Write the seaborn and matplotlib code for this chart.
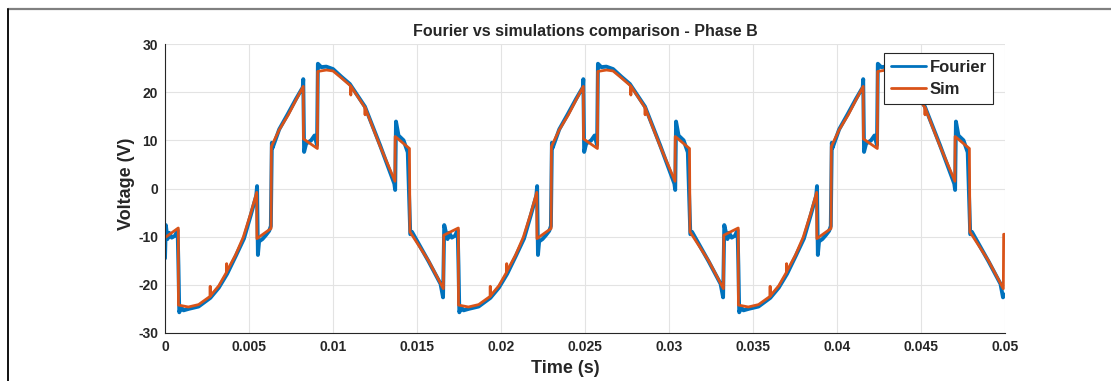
import pandas as pd
import matplotlib
matplotlib.use('Agg')
import matplotlib.pyplot as plt
from matplotlib.lines import Line2D
import seaborn as sns

# Values (time in s, voltage in V)
sim_t = [
    0.0, 0.00079, 0.0008, 0.00139, 0.0020, 0.00268, 0.00269, 0.0027, 0.0032, 0.00366,
    0.00367, 0.00368, 0.0042, 0.00466, 0.0051, 0.00546, 0.00547, 0.00631, 0.00633, 0.0068,
    0.00734, 0.0078, 0.00823, 0.00824, 0.00907, 0.00909, 0.00961, 0.0100, 0.01052, 0.01105,
    0.01106, 0.01107, 0.0119, 0.01191, 0.01192, 0.0128, 0.01369, 0.0137, 0.01455, 0.01458,
    0.01567, 0.01657,
    0.01659, 0.01746, 0.01747, 0.01806, 0.01867, 0.01935, 0.01936, 0.01937, 0.01987, 0.02033,
    0.02034, 0.02035, 0.02087, 0.02133, 0.02177, 0.02213, 0.02214, 0.02298, 0.02300, 0.02347,
    0.02401, 0.02447, 0.0249, 0.02491, 0.02574, 0.02576, 0.02628, 0.02667, 0.02719, 0.02772,
    0.02773, 0.02774, 0.02857, 0.02858, 0.02859, 0.02947, 0.03036, 0.03037, 0.03122, 0.03125,
    0.03234, 0.03324,
    0.03326, 0.03412, 0.03413, 0.03472, 0.03533, 0.03601, 0.03602, 0.03603, 0.03653, 0.03699,
    0.0370, 0.03701, 0.03753, 0.03799, 0.03843, 0.03879, 0.0388, 0.03964, 0.03966, 0.04013,
    0.04067, 0.04113, 0.04156, 0.04157, 0.0424, 0.04242, 0.04294, 0.04333, 0.04385, 0.04438,
    0.04439, 0.0444, 0.04523, 0.04524, 0.04525, 0.04613, 0.04702, 0.04703, 0.04788, 0.04791,
    0.0490, 0.0499, 0.04992, 0.05,
]
sim_v = [
    -10.2, -8.2, -24.2, -24.6, -24.1, -22.4, -20.3, -22.3, -20.2, -17.4,
    -15.6, -17.2, -13.8, -10.1, -5.2, -0.8, -10.4, -8.3, 8.7, 12.2,
    15.3, 18.4, 21.2, 10.3, 8.3, 24.3, 24.6, 24.4, 22.9, 21.3,
    19.4, 21.2, 16.8, 15.3, 16.7, 8.8, 1.5, 10.8, 8.3, -9.0,
    -14.9, -20.8,
    -9.7, -8.2, -24.2, -24.6, -24.1, -22.4, -20.3, -22.3, -20.2, -17.4,
    -15.6, -17.2, -13.8, -10.1, -5.2, -0.8, -10.4, -8.3, 8.7, 12.2,
    15.3, 18.4, 21.2, 10.3, 8.3, 24.3, 24.6, 24.4, 22.9, 21.3,
    19.4, 21.2, 16.8, 15.3, 16.7, 8.8, 1.5, 10.8, 8.3, -9.0,
    -14.9, -20.8,
    -9.7, -8.2, -24.2, -24.6, -24.1, -22.4, -20.3, -22.3, -20.2, -17.4,
    -15.6, -17.2, -13.8, -10.1, -5.2, -0.8, -10.4, -8.3, 8.7, 12.2,
    15.3, 18.4, 21.2, 10.3, 8.3, 24.3, 24.6, 24.4, 22.9, 21.3,
    19.4, 21.2, 16.8, 15.3, 16.7, 8.8, 1.5, 10.8, 8.3, -9.0,
    -14.9, -20.8, -9.5, -9.5,
]

fourier_t = [
    0.0, 0.00005, 0.00015, 0.00025, 0.0004, 0.0006, 0.00075, 0.0008, 0.00085, 0.00095,
    0.0011, 0.0014, 0.002, 0.0027, 0.0032, 0.0037, 0.0042, 0.0047, 0.0051, 0.00543,
    0.00548, 0.00553, 0.0056, 0.0058, 0.006, 0.0062, 0.0063, 0.00636, 0.0064, 0.0068,
    0.0073, 0.0078, 0.0082, 0.00823, 0.00828, 0.0084, 0.0087, 0.0089, 0.00905, 0.0091,
    0.0093, 0.0096, 0.01, 0.0105, 0.011, 0.0119, 0.0128, 0.01365, 0.0137, 0.01375,
    0.0139, 0.0142, 0.01445, 0.0146, 0.0147, 0.0157, 0.0164, 0.01655,
    0.01662, 0.01682, 0.01692, 0.01707, 0.01727, 0.01742, 0.01747, 0.01752, 0.01762, 0.01777,
    0.01807, 0.01867, 0.01937, 0.01987, 0.02037, 0.02087, 0.02137, 0.02177, 0.0221, 0.02215,
    0.0222, 0.02227, 0.02247, 0.02267, 0.02287, 0.02297, 0.02303, 0.02307, 0.02347, 0.02397,
    0.02447, 0.02487, 0.0249, 0.02495, 0.02507, 0.02537, 0.02557, 0.02572, 0.02577, 0.02597,
    0.02627, 0.02667, 0.02717, 0.02767, 0.02857, 0.02947, 0.03032, 0.03037, 0.03042, 0.03057,
    0.03087, 0.03112, 0.03127, 0.03137, 0.03237, 0.03307, 0.03322,
    0.03329, 0.03348, 0.03358, 0.03373, 0.03393, 0.03408, 0.03413, 0.03418, 0.03428, 0.03443,
    0.03473, 0.03533, 0.03603, 0.03653, 0.03703, 0.03753, 0.03803, 0.03843, 0.03876, 0.03881,
    0.03886, 0.03893, 0.03913, 0.03933, 0.03953, 0.03963, 0.03969, 0.03973, 0.04013, 0.04063,
    0.04113, 0.04153, 0.04156, 0.04161, 0.04173, 0.04203, 0.04223, 0.04238, 0.04243, 0.04263,
    0.04293, 0.04333, 0.04383, 0.04433, 0.04523, 0.04613, 0.04698, 0.04703, 0.04708, 0.04723,
    0.04753, 0.04778, 0.04793, 0.04803, 0.04903, 0.04973, 0.04988, 0.05,
]
fourier_v = [
    -14.5, -7.6, -10.5, -9.2, -10.2, -9.8, -8.6, -16.0, -25.7, -24.6,
    -25.3, -25.0, -24.5, -22.7, -20.6, -17.7, -14.1, -10.4, -5.6, -1.5,
    0.5, -13.8, -11.0, -10.5, -9.7, -8.8, -7.8, 9.5, 8.4, 12.3,
    15.4, 18.6, 21.0, 22.7, 7.6, 9.3, 10.0, 11.0, 9.0, 25.9,
    25.2, 25.3, 24.8, 23.2, 21.7, 17.0, 9.0, 1.0, -0.3, 13.9,
    11.0, 10.0, 7.5, -9.5, -9.0, -15.2, -19.8, -22.6,
    -7.6, -10.5, -9.2, -10.2, -9.8, -8.6, -16.0, -25.7, -24.6, -25.3,
    -25.0, -24.5, -22.7, -20.6, -17.7, -14.1, -10.4, -5.6, -1.5, 0.5,
    -13.8, -11.0, -10.5, -9.7, -8.8, -7.8, 9.5, 8.4, 12.3, 15.4,
    18.6, 21.0, 22.7, 7.6, 9.3, 10.0, 11.0, 9.0, 25.9, 25.2,
    25.3, 24.8, 23.2, 21.7, 17.0, 9.0, 1.0, -0.3, 13.9, 11.0,
    10.0, 7.5, -9.5, -9.0, -15.2, -19.8, -22.6,
    -7.6, -10.5, -9.2, -10.2, -9.8, -8.6, -16.0, -25.7, -24.6, -25.3,
    -25.0, -24.5, -22.7, -20.6, -17.7, -14.1, -10.4, -5.6, -1.5, 0.5,
    -13.8, -11.0, -10.5, -9.7, -8.8, -7.8, 9.5, 8.4, 12.3, 15.4,
    18.6, 21.0, 22.7, 7.6, 9.3, 10.0, 11.0, 9.0, 25.9, 25.2,
    25.3, 24.8, 23.2, 21.7, 17.0, 9.0, 1.0, -0.3, 13.9, 11.0,
    10.0, 7.5, -9.5, -9.0, -15.2, -19.8, -22.6, -22.0,
]

x_ticks = [0, 0.005, 0.01, 0.015, 0.02, 0.025, 0.03, 0.035, 0.04, 0.045, 0.05]
x_tick_labels = ['0', '0.005', '0.01', '0.015', '0.02', '0.025', '0.03', '0.035', '0.04', '0.045', '0.05']
y_ticks = [-30, -20, -10, 0, 10, 20, 30]

df = pd.concat([
    pd.DataFrame({'t': fourier_t, 'v': fourier_v, 'series': 'Fourier'}),
    pd.DataFrame({'t': sim_t, 'v': sim_v, 'series': 'Sim'}),
], ignore_index=True)

sns.set_theme(style="white")
plt.rcParams['font.family'] = ['Liberation Sans', 'DejaVu Sans']
plt.rcParams['font.weight'] = 'bold'
plt.rcParams['axes.unicode_minus'] = False

fig = plt.figure(figsize=(11.11, 3.81), dpi=100)
ax = fig.add_axes([165 / 1111, 1 - 333 / 381, 840 / 1111, 289 / 381])

sns.lineplot(data=df, x='t', y='v', hue='series', sort=False, estimator=None,
             palette={'Fourier': '#0072BD', 'Sim': '#D95319'}, ax=ax, legend=False)
ax.lines[0].set_linewidth(2.8)
ax.lines[1].set_linewidth(2.0)

ax.set_xlim(0, 0.05)
ax.set_ylim(-30, 30)
ax.set_xticks(x_ticks)
ax.set_xticklabels(x_tick_labels)
ax.set_yticks(y_ticks)
ax.tick_params(direction='in', length=6, width=0.8, colors='#262626', labelsize=10, pad=5)
for lab in ax.get_xticklabels() + ax.get_yticklabels():
    lab.set_fontweight('bold')
ax.grid(True, color='#e3e3e3', linewidth=0.8)
ax.set_axisbelow(True)
for side in ['top', 'right']:
    ax.spines[side].set_visible(False)
for side in ['left', 'bottom']:
    ax.spines[side].set_color('#262626')
    ax.spines[side].set_linewidth(0.8)

ax.set_title('Fourier vs simulations comparison - Phase B', fontsize=11.5, fontweight='bold', pad=6)
ax.set_xlabel('Time (s)', fontsize=13, fontweight='bold')
ax.set_ylabel('Voltage (V)', fontsize=13, fontweight='bold')
ax.xaxis.set_label_coords(0.477, -0.093)
ax.yaxis.set_label_coords(-0.036, 0.515)

handles = [Line2D([], [], color='#0072BD', lw=2.0), Line2D([], [], color='#D95319', lw=2.0)]
leg = ax.legend(handles, ['Fourier', 'Sim'], loc='upper right', bbox_to_anchor=(0.986, 0.969),
                borderaxespad=0, fancybox=False, framealpha=1, edgecolor='#262626',
                prop={'size': 12, 'weight': 'bold'}, handlelength=2.1, handletextpad=0.2,
                labelspacing=0.45, borderpad=0.4)
leg.get_frame().set_linewidth(0.8)

# outer frame lines of the original figure
fig.add_artist(Line2D([8 / 1111, 1], [1 - 8.5 / 381, 1 - 8.5 / 381], transform=fig.transFigure,
                      color='#808080', lw=1.6))
fig.add_artist(Line2D([8 / 1111, 8 / 1111], [0, 1 - 8.5 / 381], transform=fig.transFigure,
                      color='#111111', lw=1.4))

fig.savefig('out.png', dpi=100)
